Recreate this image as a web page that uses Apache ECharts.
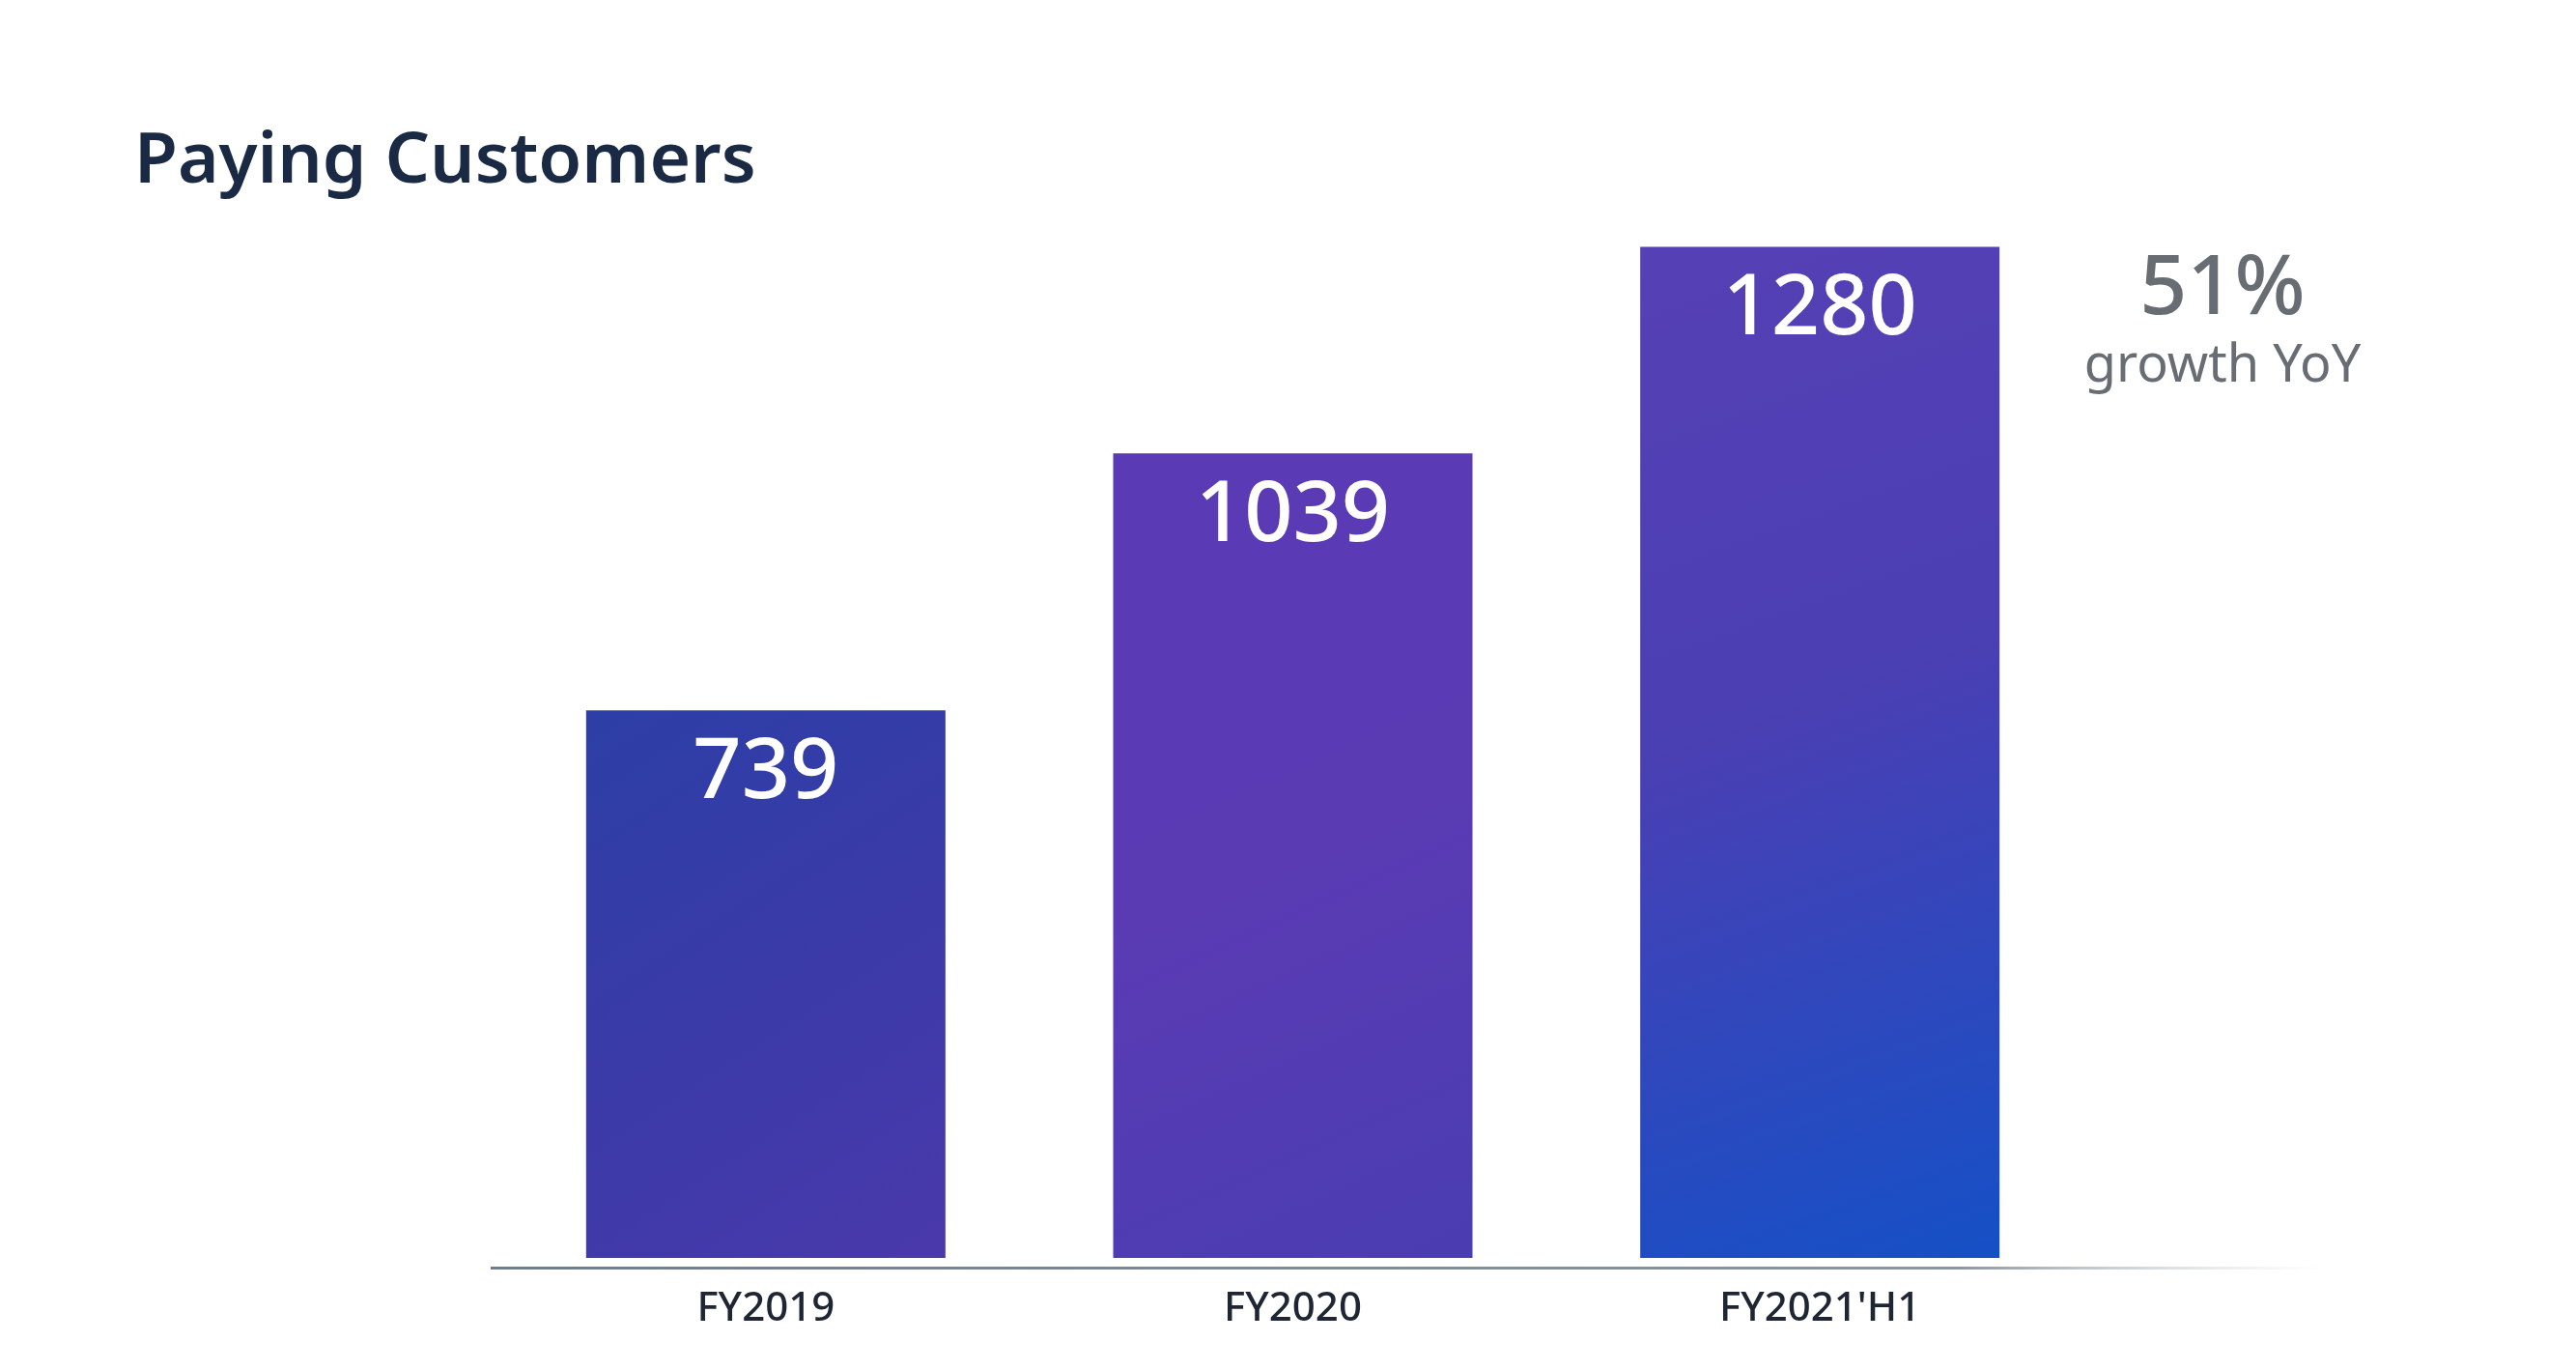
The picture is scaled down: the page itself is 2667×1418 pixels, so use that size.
<!DOCTYPE html>
<html>
<head>
<meta charset="utf-8">
<script src="https://cdn.jsdelivr.net/npm/echarts@6/dist/echarts.min.js"></script>
<style>
html,body{margin:0;padding:0;background:#ffffff;}
#chart{width:2667px;height:1418px;}
</style>
</head>
<body>
<div id="chart"></div>
<script>
const categories = ['FY2019', 'FY2020', "FY2021'H1"];
const customers = [739, 1039, 1280];
const growthValue = '51%';
const growthLabel = 'growth YoY';
const titleText = 'Paying Customers';

const barGradients = [
  [['#2c3fa6', 0], ['#3a3aa8', 0.5], ['#4a39ab', 1]],
  [['#5a3bb5', 0], ['#5a3bb4', 0.5], ['#4a3db1', 1]],
  [['#5640b5', 0], ['#4a3fb3', 0.45], ['#1550c6', 1]]
];

const chart = echarts.init(document.getElementById('chart'));
const font = '"Noto Sans", "Open Sans", sans-serif';

chart.setOption({
  backgroundColor: '#ffffff',
  animation: false,
  title: [
    {
      text: titleText,
      left: 134, top: 127,
      textStyle: { fontFamily: font, fontSize: 73, fontWeight: 600, color: '#1b2a44' }
    },
    {
      text: growthValue,
      subtext: growthLabel,
      left: 2296, top: 252,
      textAlign: 'center',
      itemGap: 10,
      textStyle: { fontFamily: font, fontSize: 86, fontWeight: 500, color: '#686d74' },
      subtextStyle: { fontFamily: font, fontSize: 54, fontWeight: 400, color: '#686d74' }
    }
  ],
  grid: { left: 520, right: 510, top: 149, bottom: 116 },
  xAxis: {
    type: 'category',
    data: categories,
    offset: 10,
    axisLine: { show: false },
    axisTick: { show: false },
    axisLabel: { fontFamily: font, fontSize: 42, fontWeight: 500, color: '#1f2633', margin: 22 }
  },
  yAxis: {
    type: 'value', min: 100, max: 1400, show: false, splitLine: { show: false }
  },
  graphic: [{
    type: 'rect',
    shape: { x: 508, y: 1311, width: 1900, height: 3 },
    style: {
      fill: new echarts.graphic.LinearGradient(0, 0, 1, 0, [
        { offset: 0, color: '#6f7e8c' },
        { offset: 0.8, color: '#8a96a2' },
        { offset: 1, color: 'rgba(200,205,210,0)' }
      ])
    },
    z: 10
  }],
  series: [{
    type: 'bar',
    barWidth: 372,
    data: customers.map((v, i) => ({
      value: v,
      itemStyle: {
        color: new echarts.graphic.LinearGradient(0, 0, 1, 1,
          barGradients[i].map(s => ({ offset: s[1], color: s[0] })))
      }
    })),
    label: {
      show: true,
      position: 'insideTop',
      distance: 22,
      fontFamily: font,
      fontSize: 88,
      fontWeight: 500,
      color: '#ffffff'
    }
  }]
});
</script>
</body>
</html>
